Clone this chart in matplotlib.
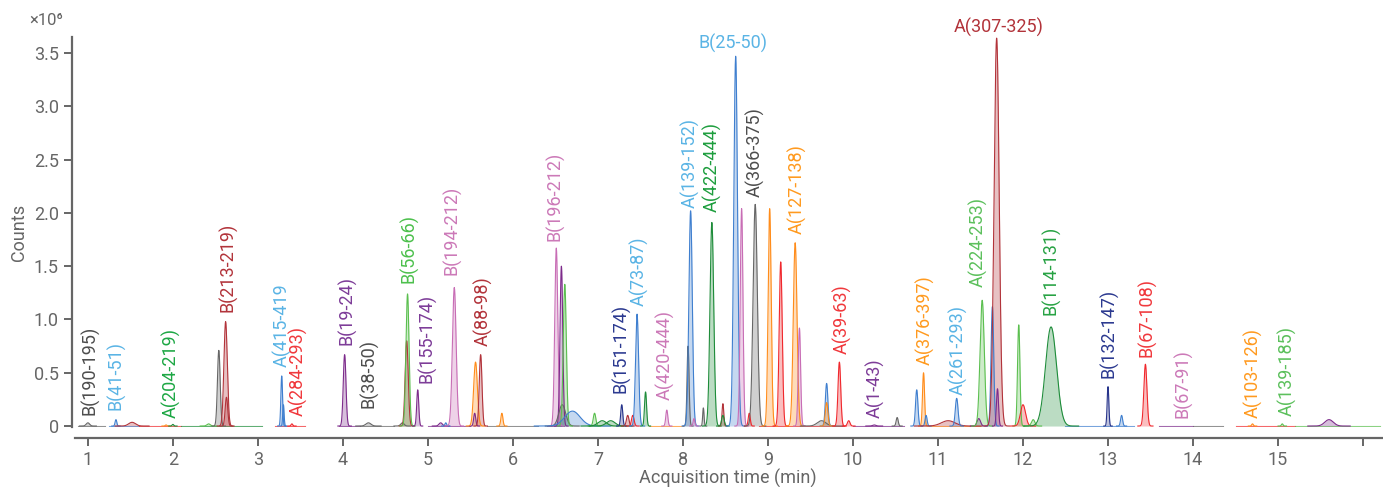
import numpy as np
import matplotlib
matplotlib.use("Agg")
import matplotlib.pyplot as plt
from matplotlib.ticker import FuncFormatter

plt.rcParams['font.family'] = ['Roboto', 'DejaVu Sans']

# colores de las trazas
COL = {
    'gray': '#666666', 'blue': '#3f7fcf', 'dred': '#b2333a', 'red': '#f0282d',
    'lgreen': '#5bbf4f', 'dgreen': '#1e8c3a', 'purple': '#7d2b8b',
    'pink': '#c86db5', 'orange': '#ff8c1a', 'navy': '#27348b',
}

# picos: tiempo de retencion (min), altura (x1e6), ancho (min), color
pico_t = [1.00, 1.33, 1.52, 1.92, 2.00, 2.42, 2.54, 2.62, 2.63, 3.28, 3.30, 3.40,
          4.02, 4.30, 4.70, 4.75, 4.76, 4.88, 5.15, 5.21, 5.31, 5.55, 5.56, 5.62,
          5.87, 6.51, 6.57, 6.58, 6.61, 6.70, 6.96, 7.05, 7.15, 7.28, 7.35,
          7.41, 7.46, 7.56, 7.81, 8.06, 8.09, 8.13, 8.24, 8.34, 8.47, 8.47, 8.62,
          8.69, 8.78, 8.85, 9.02, 9.15, 9.32, 9.37, 9.63, 9.69, 9.69, 9.84, 9.95,
          10.25, 10.52, 10.75, 10.83, 10.86, 11.12, 11.22, 11.48, 11.52, 11.64,
          11.69, 11.70, 11.95, 12.00, 12.12, 12.33, 13.00, 13.16, 13.44,
          14.70, 15.05, 15.60]
pico_h = [0.03, 0.06, 0.035, 0.01, 0.015, 0.02, 0.71, 0.98, 0.27, 0.47, 0.20, 0.02,
          0.67, 0.03, 0.03, 0.80, 1.24, 0.34, 0.03, 0.03, 1.30, 0.12, 0.60, 0.67,
          0.12, 1.67, 1.50, 0.20, 1.33, 0.14, 0.12, 0.05, 0.05, 0.20, 0.10,
          0.10, 1.05, 0.32, 0.15, 0.75, 2.02, 0.07, 0.17, 1.91, 0.21, 0.10, 3.47,
          2.04, 0.12, 2.08, 2.04, 1.54, 1.72, 0.92, 0.05, 0.40, 0.22, 0.60, 0.05,
          0.01, 0.08, 0.34, 0.50, 0.10, 0.05, 0.26, 0.07, 1.18, 1.12,
          3.64, 0.35, 0.95, 0.20, 0.06, 0.93, 0.37, 0.10, 0.58,
          0.02, 0.02, 0.06]
pico_w = [0.02, 0.010, 0.04, 0.01, 0.01, 0.02, 0.016, 0.020, 0.015, 0.010, 0.008, 0.01,
          0.016, 0.03, 0.02, 0.018, 0.018, 0.012, 0.02, 0.01, 0.022, 0.012, 0.022, 0.016,
          0.012, 0.018, 0.016, 0.04, 0.018, 0.09, 0.015, 0.05, 0.05, 0.012, 0.015,
          0.015, 0.018, 0.012, 0.012, 0.012, 0.020, 0.010, 0.008, 0.022, 0.010, 0.015, 0.022,
          0.016, 0.012, 0.025, 0.018, 0.018, 0.022, 0.014, 0.05, 0.015, 0.015, 0.016, 0.015,
          0.02, 0.012, 0.014, 0.012, 0.012, 0.08, 0.016, 0.02, 0.025, 0.016,
          0.030, 0.012, 0.014, 0.03, 0.02, 0.065, 0.010, 0.012, 0.018,
          0.01, 0.01, 0.05]
pico_c = ['gray', 'blue', 'dred', 'orange', 'dgreen', 'lgreen', 'gray', 'dred', 'dred', 'blue', 'blue', 'red',
          'purple', 'gray', 'gray', 'dred', 'lgreen', 'purple', 'purple', 'blue', 'pink', 'purple', 'orange', 'dred',
          'orange', 'pink', 'purple', 'gray', 'lgreen', 'blue', 'lgreen', 'dgreen', 'dgreen', 'navy', 'dred',
          'red', 'blue', 'dgreen', 'pink', 'gray', 'blue', 'pink', 'gray', 'dgreen', 'dred', 'dgreen', 'blue',
          'pink', 'red', 'gray', 'orange', 'red', 'orange', 'pink', 'gray', 'blue', 'orange', 'red', 'red',
          'purple', 'gray', 'blue', 'orange', 'blue', 'dred', 'blue', 'purple', 'lgreen', 'blue',
          'dred', 'purple', 'lgreen', 'red', 'lgreen', 'dgreen', 'navy', 'blue', 'red',
          'orange', 'lgreen', 'purple']

# etiquetas: texto, tiempo, altura de la base (x1e6), color
etiqueta_txt = ['B(190-195)', 'B(41-51)', 'A(204-219)', 'B(213-219)', 'A(415-419', 'A(284-293)',
                'B(19-24)', 'B(38-50)', 'B(56-66)', 'B(155-174)', 'B(194-212)', 'A(88-98)',
                'B(196-212)', 'B(151-174)', 'A(73-87)', 'A(420-444)', 'A(139-152)', 'A(422-444)',
                'B(25-50)', 'A(366-375)', 'A(127-138)', 'A(39-63)', 'A(1-43)', 'A(307-325)',
                'A(376-397)', 'A(261-293)', 'A(224-253)', 'B(114-131)', 'B(132-147)', 'B(67-108)',
                'B(67-91)', 'A(103-126)', 'A(139-185)']
etiqueta_t = [1.02, 1.33, 1.98, 2.65, 3.28, 3.47, 4.05, 4.31, 4.78, 4.99, 5.28, 5.65,
              6.49, 7.27, 7.48, 7.79, 8.08, 8.34, 8.59, 8.85, 9.34, 9.87, 10.26, 11.71,
              10.85, 11.24, 11.47, 12.33, 13.01, 13.46, 13.88, 14.71, 15.11]
etiqueta_y = [0.10, 0.15, 0.08, 1.07, 0.55, 0.09, 0.76, 0.17, 1.34, 0.40, 1.42, 0.75,
              1.74, 0.31, 1.13, 0.24, 2.05, 2.01, 3.59, 2.15, 1.80, 0.68, 0.08, 3.74,
              0.57, 0.29, 1.30, 1.04, 0.45, 0.65, 0.08, 0.08, 0.09]
etiqueta_c = ['#4d4d4d', '#5ab4e5', '#1da744', '#b2333a', '#5ab4e5', '#f0383c',
              '#7d3c98', '#4d4d4d', '#4cc04c', '#7d3c98', '#cc79b8', '#b2333a',
              '#cc79b8', '#2b3990', '#5ab4e5', '#cc79b8', '#5ab4e5', '#1e9e3e',
              '#5ab4e5', '#4d4d4d', '#ff9a1f', '#f0383c', '#7d3c98', '#b2333a',
              '#ff9a1f', '#5ab4e5', '#5cc05c', '#27a243', '#2b3990', '#f0383c',
              '#cc79b8', '#ff9a1f', '#5cc05c']
etiqueta_horizontal = ['B(25-50)', 'A(307-325)']

# tramos de linea base
base_ini = [0.88, 1.25, 1.6, 2.1, 3.2, 3.95, 4.2, 5.0, 5.7, 6.4, 7.6, 8.9, 10.0, 10.9, 12.5, 13.6, 14.0, 14.5, 15.2]
base_fin = [1.20, 1.60, 2.1, 3.05, 3.55, 4.20, 4.6, 5.5, 6.3, 6.6, 8.0, 9.9, 10.6, 11.5, 13.3, 14.0, 14.35, 15.2, 16.2]
base_c = ['gray', 'blue', 'red', 'dgreen', 'red', 'purple', 'gray', 'purple', 'gray', 'purple', 'orange', 'red',
          'purple', 'orange', 'blue', 'purple', 'gray', 'red', 'lgreen']


def graficar():
    fig = plt.figure(figsize=(13.83, 4.87), dpi=100)
    ax = fig.add_axes([0.052, 0.123, 0.948, 0.801])
    t = np.linspace(0.8, 16.3, 12000)

    for ini, fin, c in zip(base_ini, base_fin, base_c):
        ax.plot([ini, fin], [0, 0], color=COL[c], lw=0.8, alpha=0.7, zorder=1)

    for rt, h, w, c in zip(pico_t, pico_h, pico_w, pico_c):
        m = (t > rt - 5 * w) & (t < rt + 5 * w)
        y = h * np.exp(-0.5 * ((t[m] - rt) / w) ** 2)
        ax.fill_between(t[m], 0, y, color=COL[c], alpha=0.3, lw=0, zorder=2)
        ax.plot(t[m], y, color=COL[c], lw=0.8, zorder=3)

    for txt, x, y, c in zip(etiqueta_txt, etiqueta_t, etiqueta_y, etiqueta_c):
        if txt in etiqueta_horizontal:
            ax.text(x, y, txt, color=c, fontsize=13, ha='center', va='center', clip_on=False)
        else:
            ax.text(x, y, txt, color=c, fontsize=13, rotation=90, ha='center', va='bottom')

    ax.set_xlim(0.812, 16.235)
    ax.set_ylim(-0.01, 3.65)
    ax.set_xticks(range(1, 17))
    ax.set_xticklabels([str(i) for i in range(1, 16)] + [''])
    ax.set_yticks([0, 0.5, 1.0, 1.5, 2.0, 2.5, 3.0, 3.5])
    ax.yaxis.set_major_formatter(FuncFormatter(lambda v, p: '0' if v == 0 else f'{v:.1f}'))

    gris = '#666666'
    for lado in ['top', 'right']:
        ax.spines[lado].set_visible(False)
    ax.spines['bottom'].set_position(('outward', 8))
    ax.spines['bottom'].set_bounds(0.847, 16.235)
    for lado in ['left', 'bottom']:
        ax.spines[lado].set_color(gris)
        ax.spines[lado].set_linewidth(1.6)
    ax.tick_params(colors=gris, labelsize=13, length=6, width=1.4, labelcolor=gris)
    ax.tick_params(axis='x', pad=3)

    ax.set_xlabel('Acquisition time (min)', fontsize=13, color=gris, labelpad=0)
    ax.set_ylabel('Counts', fontsize=13, color=gris, labelpad=4)
    fig.text(0.021, 0.957, '×10⁶', fontsize=12, color=gris, va='center')

    fig.savefig('out.png', dpi=100)


if __name__ == "__main__":
    graficar()
